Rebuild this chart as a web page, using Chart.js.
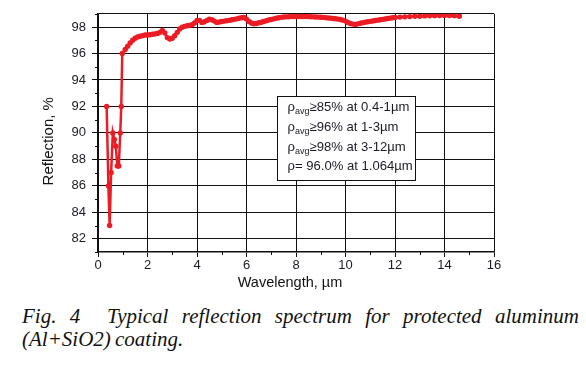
<!DOCTYPE html>
<html>
<head>
<meta charset="utf-8">
<script src="https://cdn.jsdelivr.net/npm/chart.js@4/dist/chart.umd.min.js"></script>
<style>
  html, body { margin: 0; padding: 0; background: #fff; width: 586px; height: 370px; overflow: hidden; }
  #wrap { position: absolute; left: 0; top: 0; width: 586px; height: 300px; }
  .cap { position: absolute; left: 22px; width: 557px; font-family: "Liberation Serif", serif; font-style: italic; font-size: 21px; line-height: 23px; color: #111; white-space: nowrap; }
  #cap1 { top: 305px; text-align: justify; text-align-last: justify; white-space: normal; }
  #cap2 { top: 328px; }
</style>
</head>
<body>
<div id="wrap"><canvas id="c" width="586" height="300"></canvas></div>
<div class="cap" id="cap1">Fig.&nbsp;4&nbsp; Typical reflection spectrum for protected aluminum</div>
<div class="cap" id="cap2">(Al+SiO2)&#8201;coating.</div>
<script>
// ---- data ----
const wavelength = [
  0.35, 0.42, 0.47, 0.53, 0.60, 0.66, 0.72, 0.78, 0.84, 0.90, 0.94, 0.98,
  1.1, 1.2, 1.3, 1.4, 1.5, 1.6, 1.7, 1.8, 1.9, 2.0,
  2.1, 2.2, 2.3, 2.4, 2.5, 2.6, 2.7, 2.8, 2.9, 3.0,
  3.1, 3.2, 3.3, 3.4, 3.5, 3.6, 3.7, 3.8, 3.9, 4.0,
  4.1, 4.2, 4.3, 4.4, 4.5, 4.6, 4.7, 4.8, 4.9, 5.0,
  5.1, 5.2, 5.3, 5.4, 5.5, 5.6, 5.7, 5.8, 5.9, 6.0,
  6.1, 6.2, 6.3, 6.4, 6.5, 6.6, 6.7, 6.8, 6.9, 7.0,
  7.1, 7.2, 7.3, 7.4, 7.5, 7.6, 7.7, 7.8, 7.9, 8.0,
  8.1, 8.2, 8.3, 8.4, 8.5, 8.6, 8.7, 8.8, 8.9, 9.0,
  9.1, 9.2, 9.3, 9.4, 9.5, 9.6, 9.7, 9.8, 9.9, 10.0,
  10.1, 10.2, 10.3, 10.4, 10.5, 10.6, 10.7, 10.8, 10.9, 11.0,
  11.1, 11.2, 11.3, 11.4, 11.5, 11.6, 11.7, 11.8, 11.9, 12.0,
  12.2, 12.4, 12.6, 12.8, 13.0, 13.2, 13.4, 13.6, 13.8, 14.0, 14.2, 14.4, 14.6
];
const reflection = [
  92.0, 86.0, 83.0, 87.0, 90.0, 89.5, 89.0, 87.5, 87.5, 90.0, 92.0, 96.0,
  96.3, 96.55, 96.8, 97.0, 97.15, 97.25, 97.3, 97.35, 97.4, 97.4,
  97.42, 97.45, 97.48, 97.52, 97.6, 97.75, 97.55, 97.2, 97.1, 97.15,
  97.35, 97.6, 97.85, 97.98, 98.05, 98.1, 98.12, 98.18, 98.3, 98.5,
  98.5, 98.35, 98.4, 98.5, 98.6, 98.55, 98.45, 98.35, 98.38, 98.42,
  98.45, 98.48, 98.5, 98.55, 98.58, 98.62, 98.66, 98.7, 98.72, 98.6,
  98.42, 98.3, 98.25, 98.27, 98.32, 98.36, 98.42, 98.48, 98.53, 98.57,
  98.62, 98.66, 98.7, 98.73, 98.76, 98.77, 98.78, 98.79, 98.8, 98.8,
  98.8, 98.8, 98.8, 98.8, 98.79, 98.78, 98.77, 98.76, 98.75, 98.74,
  98.73, 98.71, 98.69, 98.67, 98.65, 98.63, 98.6, 98.57, 98.52, 98.45,
  98.35, 98.27, 98.22, 98.2, 98.24, 98.29, 98.33, 98.37, 98.4, 98.43,
  98.46, 98.49, 98.52, 98.55, 98.58, 98.61, 98.64, 98.67, 98.7, 98.72,
  98.75, 98.77, 98.79, 98.81, 98.82, 98.84, 98.85, 98.86, 98.87, 98.88, 98.87, 98.86, 98.82
];
const xMajorTicks = [0, 2, 4, 6, 8, 10, 12, 14, 16];
const yMajorTicks = [82, 84, 86, 88, 90, 92, 94, 96, 98];
const xTitle = 'Wavelength, \u00b5m   ';
const yTitle = 'Reflection, %    ';
// info box lines: [main symbol, subscript, rest]
const noteLines = [
  ['\u03c1', 'avg', '\u226585% at 0.4-1\u00b5m'],
  ['\u03c1', 'avg', '\u226596% at 1-3\u00b5m'],
  ['\u03c1', 'avg', '\u226598% at 3-12\u00b5m'],
  ['\u03c1', '', '= 96.0% at 1.064\u00b5m']
];
// box anchored in data coordinates
const noteBox = { x0: 7.22, y0: 92.8, x1: 12.82, y1: 86.45 };

const RED = '#ec1c24';
const INK = '#111';
const LABEL = '#1b1b26';
const FONT = '"Liberation Sans", Arial, sans-serif';

const points = wavelength.map((w, i) => ({ x: w, y: reflection[i] }));

const minorTicks = {
  id: 'minorTicks',
  afterDraw(chart) {
    const ctx = chart.ctx, xs = chart.scales.x, ys = chart.scales.y;
    ctx.save();
    ctx.strokeStyle = INK; ctx.lineWidth = 1;
    for (let v = 1; v < 16; v += 2) {
      const px = Math.round(xs.getPixelForValue(v)) + 0.5;
      ctx.beginPath(); ctx.moveTo(px, xs.top); ctx.lineTo(px, xs.top + 3); ctx.stroke();
    }
    for (let v = 81; v <= 99; v += 2) {
      const py = Math.round(ys.getPixelForValue(v)) + 0.5;
      ctx.beginPath(); ctx.moveTo(ys.right, py); ctx.lineTo(ys.right - 3, py); ctx.stroke();
    }
    ctx.restore();
  }
};

const noteBoxPlugin = {
  id: 'noteBox',
  afterDatasetsDraw(chart) {
    const ctx = chart.ctx, xs = chart.scales.x, ys = chart.scales.y;
    const l = Math.round(xs.getPixelForValue(noteBox.x0)) + 0.5;
    const r = Math.round(xs.getPixelForValue(noteBox.x1)) + 0.5;
    const t = Math.round(ys.getPixelForValue(noteBox.y0)) + 0.5;
    const b = Math.round(ys.getPixelForValue(noteBox.y1)) + 0.5;
    ctx.save();
    ctx.fillStyle = '#fff';
    ctx.fillRect(l, t, r - l, b - t);
    ctx.strokeStyle = INK; ctx.lineWidth = 1;
    ctx.strokeRect(l, t, r - l, b - t);
    ctx.fillStyle = LABEL;
    ctx.textBaseline = 'alphabetic';
    const lineH = (b - t) / 4.25;
    noteLines.forEach((ln, i) => {
      let x = l + 10;
      const y = t + 14.5 + i * lineH;
      ctx.font = '13.1px ' + FONT;
      ctx.fillText(ln[0], x, y);
      x += ctx.measureText(ln[0]).width;
      if (ln[1]) {
        ctx.font = '9px ' + FONT;
        ctx.fillText(ln[1], x, y + 3);
        x += ctx.measureText(ln[1]).width;
      }
      ctx.font = '13.1px ' + FONT;
      ctx.fillText(ln[2], x, y);
    });
    ctx.restore();
  }
};

new Chart(document.getElementById('c'), {
  type: 'scatter',
  data: {
    datasets: [{
      data: points,
      showLine: true,
      borderColor: RED,
      backgroundColor: RED,
      borderWidth: 2.5,
      pointRadius: 2.7,
      pointBorderWidth: 0,
      pointHoverRadius: 2.7,
      tension: 0
    }]
  },
  options: {
    responsive: false,
    animation: false,
    devicePixelRatio: 1,
    layout: { padding: { left: 0, top: 10, right: 92, bottom: 0 } },
    plugins: { legend: { display: false }, tooltip: { enabled: false } },
    scales: {
      x: {
        type: 'linear', min: 0, max: 16,
        afterFit(s) { s.height = 48; },
        ticks: {
          stepSize: 1, autoSkip: false, maxRotation: 0, padding: 1,
          color: LABEL, font: { family: FONT, size: 13 },
          callback: v => xMajorTicks.includes(v) ? String(v) : ''
        },
        grid: {
          color: c => (c.tick && xMajorTicks.includes(c.tick.value)) ? INK : 'rgba(0,0,0,0)',
          tickColor: c => (c.tick && xMajorTicks.includes(c.tick.value)) ? INK : 'rgba(0,0,0,0)',
          lineWidth: 1, tickLength: 5
        },
        border: { color: INK, width: 1.5 },
        title: { display: true, text: xTitle, color: INK, font: { family: FONT, size: 14.5 }, padding: { top: 0, bottom: 8 } }
      },
      y: {
        type: 'linear', min: 81, max: 99,
        afterFit(s) { s.width = 98; },
        ticks: {
          stepSize: 1, autoSkip: false, padding: 6,
          color: LABEL, font: { family: FONT, size: 13 },
          callback: v => yMajorTicks.includes(v) ? String(v) : ''
        },
        grid: {
          color: c => (c.tick && (yMajorTicks.includes(c.tick.value) || c.tick.value === 99)) ? INK : 'rgba(0,0,0,0)',
          tickColor: c => (c.tick && yMajorTicks.includes(c.tick.value)) ? INK : 'rgba(0,0,0,0)',
          lineWidth: 1, tickLength: 6
        },
        border: { color: INK, width: 1.5 },
        title: { display: true, text: yTitle, color: INK, font: { family: FONT, size: 15 }, padding: { top: 40, bottom: 0 } }
      }
    }
  },
  plugins: [minorTicks, noteBoxPlugin]
});
</script>
</body>
</html>
